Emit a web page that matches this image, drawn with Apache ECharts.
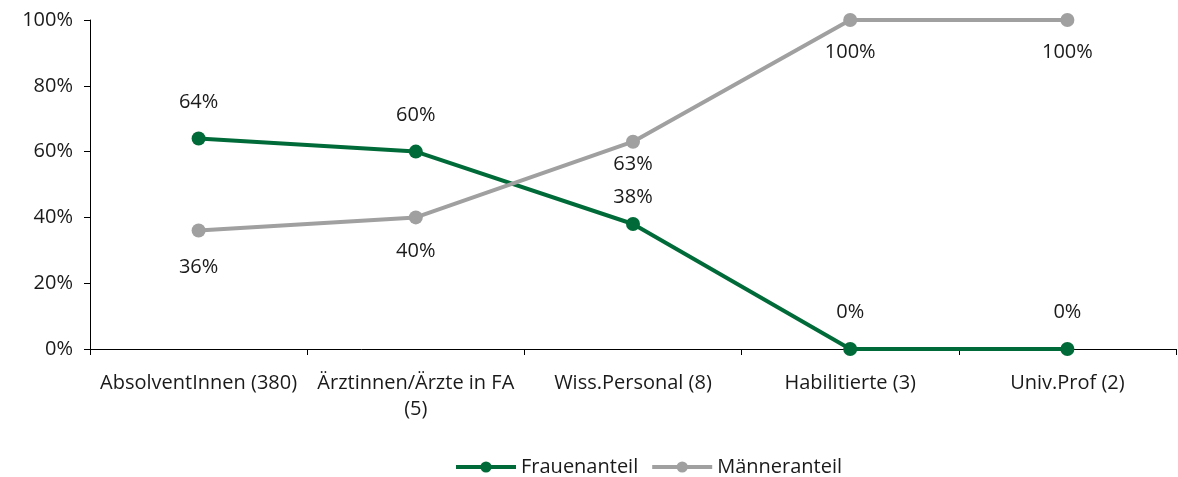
<!DOCTYPE html>
<html>
<head>
<meta charset="utf-8">
<script src="https://cdn.jsdelivr.net/npm/echarts@6/dist/echarts.min.js"></script>
<style>
  html, body { margin: 0; padding: 0; background: #fff; }
  #chart { width: 1178px; height: 477px; }
</style>
</head>
<body>
<div id="chart"></div>
<script>
// Anteile nach Qualifikationsstufe (in %)
const categories = [
  'AbsolventInnen (380)',
  'Ärztinnen/Ärzte in FA\n(5)',
  'Wiss.Personal (8)',
  'Habilitierte (3)',
  'Univ.Prof (2)'
];
const frauenanteil = [64, 60, 38, 0, 0];
const maenneranteil = [36, 40, 63, 100, 100];
const yTicks = [0, 20, 40, 60, 80, 100];

// Abstand der Wertebeschriftung vom Punkt, je Kategorie
const frauenLabelGap = [19, 19, 10, 20, 20];
const maennerLabelGap = [20, 17, 6, 15, 15];

const FONT = '"Open Sans", "Noto Sans", sans-serif';
const TEXT = '#1a1a1a';
const GREEN = '#006b38';
const GREY = '#a0a0a0';
const FS = 20;

const withLabelGap = (values, gaps) =>
  values.map((v, i) => ({ value: v, label: { distance: gaps[i] } }));

const chart = echarts.init(document.getElementById('chart'));
chart.setOption({
  animation: false,
  textStyle: { fontFamily: FONT },
  grid: { left: 90, right: 2, top: 20, bottom: 128 },
  xAxis: {
    type: 'category',
    data: categories,
    boundaryGap: true,
    axisLine: { lineStyle: { color: '#000', width: 1 } },
    axisTick: { show: true, length: 6, lineStyle: { color: '#000' } },
    axisLabel: {
      interval: 0, margin: 21, color: TEXT, fontSize: FS,
      fontFamily: FONT, lineHeight: 26
    }
  },
  yAxis: {
    type: 'value',
    min: yTicks[0],
    max: yTicks[yTicks.length - 1],
    interval: 20,
    axisLine: { show: true, lineStyle: { color: '#000', width: 1 } },
    axisTick: { show: true, length: 6, lineStyle: { color: '#000' } },
    splitLine: { show: false },
    axisLabel: {
      margin: 17, color: TEXT, fontSize: FS, fontFamily: FONT,
      formatter: v => v + '%'
    }
  },
  legend: {
    top: 452,
    left: 449,
    itemWidth: 60,
    itemHeight: 14,
    itemGap: 12,
    lineStyle: { width: 4 },
    textStyle: { color: TEXT, fontSize: FS, fontFamily: FONT },
    data: ['Frauenanteil', 'Männeranteil']
  },
  series: [
    {
      name: 'Frauenanteil',
      type: 'line',
      data: withLabelGap(frauenanteil, frauenLabelGap),
      symbol: 'circle',
      symbolSize: 14,
      z: 2,
      lineStyle: { color: GREEN, width: 4 },
      itemStyle: { color: GREEN },
      label: {
        show: true, position: 'top',
        color: TEXT, fontSize: FS, fontFamily: FONT,
        formatter: p => p.value + '%'
      }
    },
    {
      name: 'Männeranteil',
      type: 'line',
      data: withLabelGap(maenneranteil, maennerLabelGap),
      symbol: 'circle',
      symbolSize: 14,
      z: 3,
      lineStyle: { color: GREY, width: 4 },
      itemStyle: { color: GREY },
      label: {
        show: true, position: 'bottom',
        color: TEXT, fontSize: FS, fontFamily: FONT,
        formatter: p => p.value + '%'
      }
    }
  ]
});
</script>
</body>
</html>
